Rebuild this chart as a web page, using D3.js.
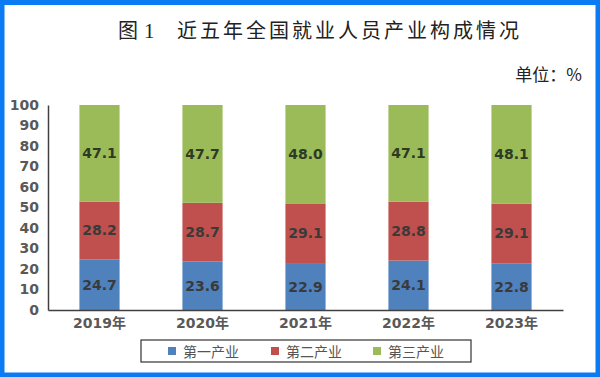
<!DOCTYPE html>
<html>
<head>
<meta charset="utf-8">
<script src="https://cdn.jsdelivr.net/npm/d3@7"></script>
<style>
  html, body { margin: 0; padding: 0; background: #fff; }
  svg { display: block; }
</style>
</head>
<body>
<svg id="chart" width="600" height="377"></svg>
<script>
// data
var years = ['2019年', '2020年', '2021年', '2022年', '2023年'];
var seriesNames = ['第一产业', '第二产业', '第三产业'];
var primary = [24.7, 23.6, 22.9, 24.1, 22.8];
var secondary = [28.2, 28.7, 29.1, 28.8, 29.1];
var tertiary = [47.1, 47.7, 48.0, 47.1, 48.1];
var yTicks = [0, 10, 20, 30, 40, 50, 60, 70, 80, 90, 100];
var colors = ['#4f81bd', '#c0504d', '#9bbb59'];

var rows = years.map((y, i) => ({year: y, s0: primary[i], s1: secondary[i], s2: tertiary[i]}));

let svg = d3.select('#chart');

// outer blue frame
svg.append('rect')
  .attr('x', 2).attr('y', 2.5)
  .attr('width', 596).attr('height', 372.5)
  .attr('fill', 'none')
  .attr('stroke', '#0b7bf4')
  .attr('stroke-width', 5);

// title
svg.append('text')
  .attr('x', 118).attr('y', 38)
  .attr('font-family', 'Noto Sans CJK SC')
  .attr('font-size', 20)
  .attr('fill', '#222')
  .text('图');
svg.append('text')
  .attr('x', 144).attr('y', 38)
  .attr('font-family', 'Liberation Serif')
  .attr('font-size', 21)
  .attr('fill', '#222')
  .text('1');
svg.append('text')
  .attr('x', 177).attr('y', 38)
  .attr('font-family', 'Noto Sans CJK SC')
  .attr('font-size', 20)
  .attr('letter-spacing', 3)
  .attr('fill', '#222')
  .text('近五年全国就业人员产业构成情况');

svg.append('text')
  .attr('x', 582).attr('y', 81)
  .attr('text-anchor', 'end')
  .attr('font-family', 'Noto Sans CJK SC')
  .attr('font-size', 17)
  .attr('fill', '#222')
  .text('单位：%');

// scales
let xScale = d3.scaleBand()
  .domain(years)
  .range([48, 563])
  .paddingInner(0.61)
  .paddingOuter(0.305);

let yScale = d3.scaleLinear()
  .domain([0, 100])
  .range([310, 105]);

let stack = d3.stack().keys(['s0', 's1', 's2']);
let layers = stack(rows);

// bars
let layerG = svg.selectAll('g.layer')
  .data(layers)
  .join('g')
  .attr('class', 'layer')
  .attr('fill', (d, i) => colors[i]);

layerG.selectAll('rect')
  .data(d => d)
  .join('rect')
  .attr('x', d => xScale(d.data.year))
  .attr('width', xScale.bandwidth())
  .attr('y', d => yScale(d[1]))
  .attr('height', d => yScale(d[0]) - yScale(d[1]));

// value labels
layers.forEach((layer, li) => {
  svg.append('g').selectAll('text')
    .data(layer)
    .join('text')
    .attr('x', d => xScale(d.data.year) + xScale.bandwidth() / 2)
    .attr('y', d => yScale((d[0] + d[1]) / 2))
    .attr('text-anchor', 'middle')
    .attr('dominant-baseline', 'central')
    .attr('font-family', 'DejaVu Sans')
    .attr('font-weight', 'bold')
    .attr('font-size', 14)
    .attr('fill', li == 2 ? '#2e3a22' : '#3a3a3a')
    .text(d => (d[1] - d[0]).toFixed(1));
});

// axes
let yAxis = d3.axisLeft(yScale).tickValues(yTicks).tickSize(0).tickPadding(9);
let yAxisG = svg.append('g')
  .attr('transform', 'translate(48,0)')
  .call(yAxis);
yAxisG.select('.domain').attr('stroke', '#404040').attr('stroke-width', 1.5);
yAxisG.selectAll('text')
  .attr('font-family', 'DejaVu Sans')
  .attr('font-weight', 'bold')
  .attr('font-size', 14)
  .attr('fill', '#595959');

let xAxis = d3.axisBottom(xScale).tickSize(0).tickPadding(8);
let xAxisG = svg.append('g')
  .attr('transform', 'translate(0,310)')
  .call(xAxis);
xAxisG.select('.domain').attr('stroke', '#404040').attr('stroke-width', 1.5);
xAxisG.selectAll('text')
  .attr('font-family', 'DejaVu Sans, Noto Sans CJK SC')
  .attr('font-weight', 'bold')
  .attr('font-size', 14)
  .attr('fill', '#595959');

// legend
svg.append('rect')
  .attr('x', 141).attr('y', 340)
  .attr('width', 330).attr('height', 22)
  .attr('fill', '#fff')
  .attr('stroke', '#333')
  .attr('stroke-width', 1.2);

let legendX = [168, 271, 373];
let legend = svg.selectAll('g.legend')
  .data(seriesNames)
  .join('g')
  .attr('class', 'legend')
  .attr('transform', (d, i) => `translate(${legendX[i]}, 351)`);
legend.append('rect')
  .attr('x', 0).attr('y', -4)
  .attr('width', 8).attr('height', 8)
  .attr('fill', (d, i) => colors[i]);
legend.append('text')
  .attr('x', 15).attr('y', 0)
  .attr('dominant-baseline', 'central')
  .attr('font-family', 'Noto Sans CJK SC')
  .attr('font-size', 14)
  .attr('fill', '#555')
  .text(d => d);
</script>
</body>
</html>
